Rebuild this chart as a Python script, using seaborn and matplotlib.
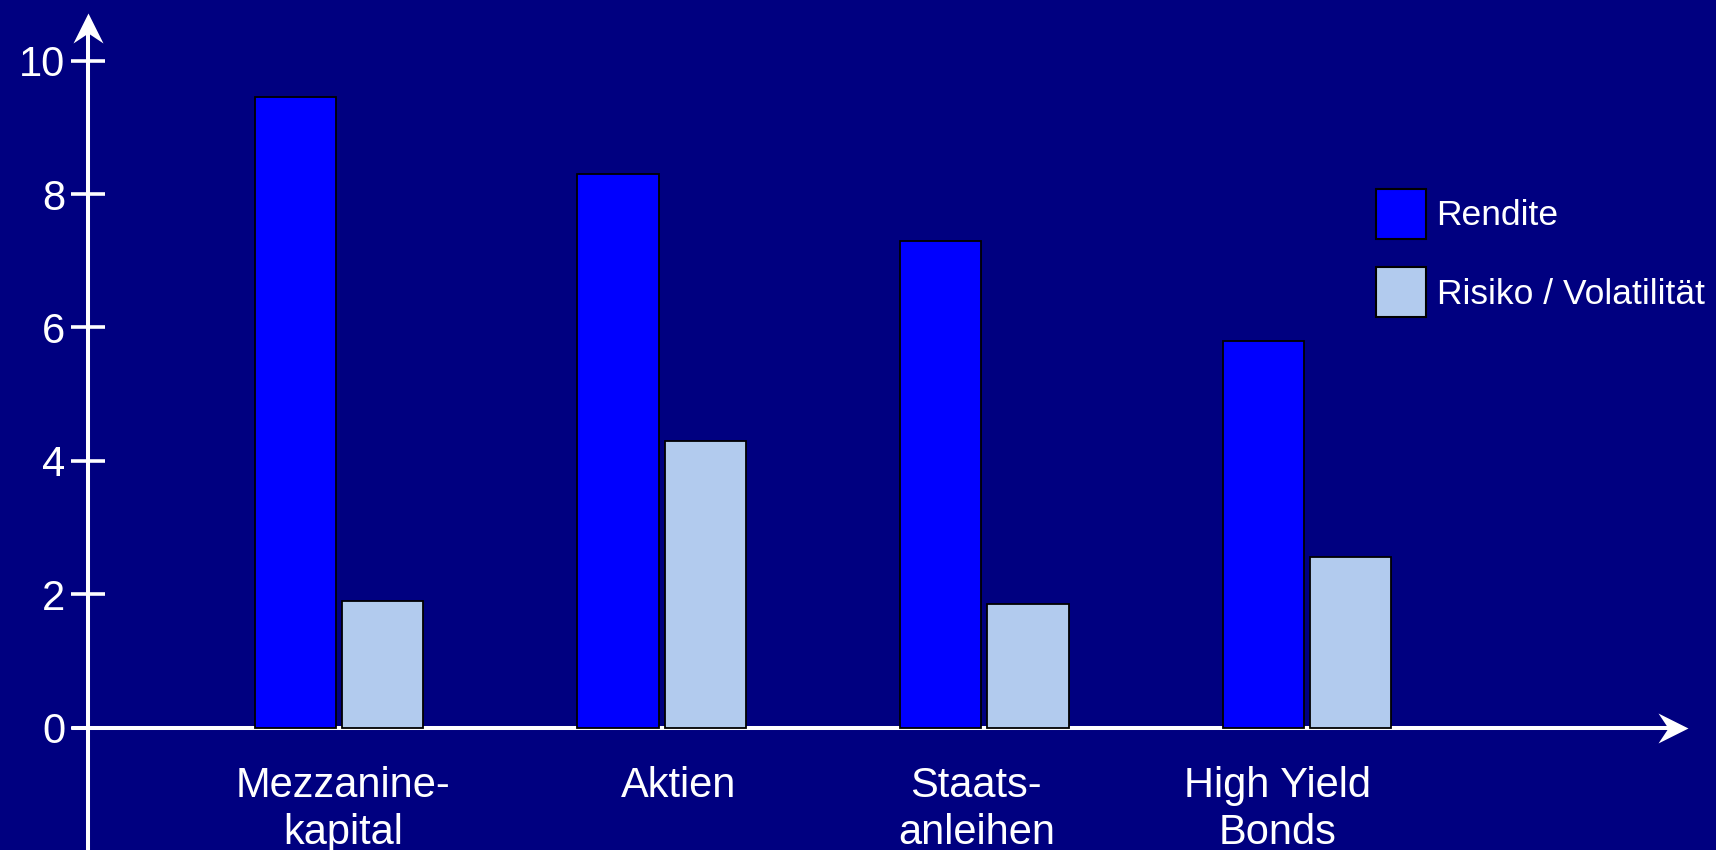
import numpy as np
import pandas as pd
import matplotlib
matplotlib.use("Agg")
import matplotlib.pyplot as plt
from matplotlib.path import Path
from matplotlib.markers import MarkerStyle
from matplotlib.transforms import ScaledTranslation
import seaborn as sns

# ---- data ----
categories = ["Mezzanine-\nkapital", "Aktien", "Staats-\nanleihen", "High Yield\nBonds"]
series_names = ["Rendite", "Risiko / Volatilität"]
rendite = [9.45, 8.3, 7.3, 5.8]
risiko = [1.9, 4.3, 1.85, 2.55]
y_ticks = [0, 2, 4, 6, 8, 10]

BG = "#000080"
colors = ["#0000FF", "#B2CBEE"]

plt.rcParams["font.family"] = ["Liberation Sans", "DejaVu Sans"]

df = pd.DataFrame({
    "Kategorie": categories * 2,
    "Serie": [series_names[0]] * len(categories) + [series_names[1]] * len(categories),
    "Wert": rendite + risiko,
})

W, H = 1716, 850
fig = plt.figure(figsize=(W / 100, H / 100), dpi=100, facecolor=BG)
ax = fig.add_axes([0, 0, 1, 1], facecolor=BG)

sns.barplot(data=df, x="Kategorie", y="Wert", hue="Serie", order=categories,
            hue_order=series_names, palette=colors, width=0.542, gap=0.07,
            edgecolor="black", linewidth=1.3, saturation=1, errorbar=None,
            ax=ax, zorder=2)

# layout mapping (pixels -> data)
x0px, dx = 339.0, 322.7
y0px, dy = 727.5, 66.68
xlim = ((0 - x0px) / dx, (W - x0px) / dx)
ylim = (-(H - y0px) / dy, y0px / dy)
ax.set_xlim(*xlim)
ax.set_ylim(*ylim)

yaxis_x = (88 - x0px) / dx
xaxis_start = (72 - x0px) / dx
xaxis_tip = (1688 - x0px) / dx
yaxis_tip = (y0px - 13) / dy

ax.spines["left"].set_position(("data", yaxis_x))
ax.spines["bottom"].set_position(("data", 0))
for s in ax.spines.values():
    s.set_visible(False)

ax.set_yticks(y_ticks)
ax.set_yticklabels([str(v) for v in y_ticks])
ax.tick_params(axis="y", direction="inout", length=24, width=2.6, color="white",
               labelcolor="white", labelsize=30, pad=4.5)
ax.tick_params(axis="x", length=0, labelcolor="white", labelsize=30, pad=28)
ax.set_xlabel("")
ax.set_ylabel("")

# small horizontal nudges of the category labels (pixels), as in the original slide
label_nudge_px = [4, 17, -8, -30]
for lbl, off in zip(ax.get_xticklabels(), label_nudge_px):
    lbl.set_transform(lbl.get_transform() + ScaledTranslation(off / 100, 0, fig.dpi_scale_trans))

# axis lines with swept-back arrow heads
axis_lw = 2.9
ax.plot([xaxis_start, xaxis_tip - 12 / dx], [0, 0], color="white", lw=axis_lw,
        solid_capstyle="butt", zorder=1, clip_on=False)
ax.plot([yaxis_x, yaxis_x], [ylim[0], yaxis_tip - 12 / dy], color="white", lw=axis_lw,
        solid_capstyle="butt", zorder=1, clip_on=False)

codes = [Path.MOVETO, Path.LINETO, Path.LINETO, Path.LINETO, Path.CLOSEPOLY]
head_right = Path([(0, 0), (-30, 15), (-20, 0), (-30, -15), (0, 0)], codes)
head_up = Path([(0, 0), (15, -30), (0, -20), (-15, -30), (0, 0)], codes)
ms = 30 / (100 / 72) * 2  # marker size in points so head length is 30 px
ax.plot([xaxis_tip], [0], marker=MarkerStyle(head_right), ms=ms, color="white",
        mew=0, linestyle="none", zorder=1, clip_on=False)
ax.plot([yaxis_x], [yaxis_tip], marker=MarkerStyle(head_up), ms=ms, color="white",
        mew=0, linestyle="none", zorder=1, clip_on=False)

sns.move_legend(ax, "upper left", bbox_to_anchor=(1376 / W, 1 - 189 / H),
                frameon=False, title=None, fontsize=25.5, handlelength=1.41,
                handleheight=1.795, labelspacing=0.8, handletextpad=0.3,
                borderpad=0, borderaxespad=0, labelcolor="white")
leg = ax.get_legend()
for h in leg.legend_handles:
    h.set_edgecolor("black")
    h.set_linewidth(1.5)

fig.savefig("out.png", dpi=100, facecolor=BG)
